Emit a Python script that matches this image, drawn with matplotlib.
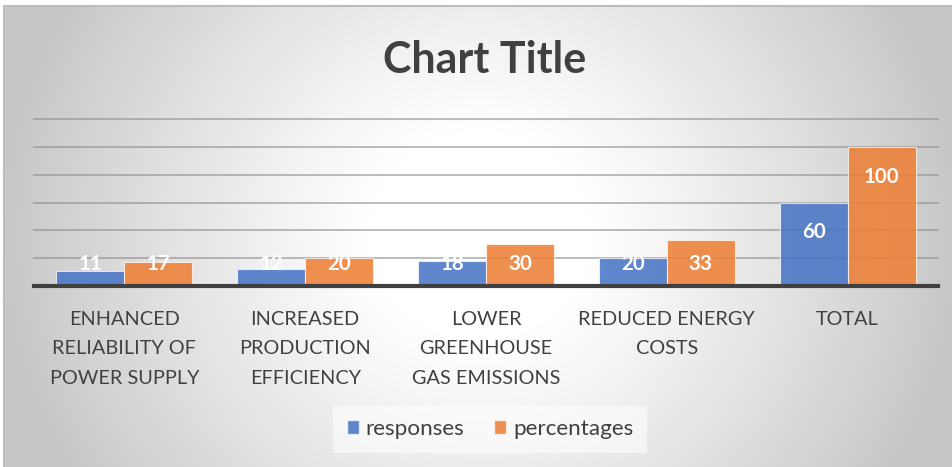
import numpy as np
import matplotlib
matplotlib.use("Agg")
import matplotlib.pyplot as plt
from matplotlib.colors import to_rgba
from matplotlib.lines import Line2D
from matplotlib.patches import Patch
import matplotlib.transforms as mtransforms

# ---- data ----
categories = ["ENHANCED\nRELIABILITY OF\nPOWER SUPPLY",
              "INCREASED\nPRODUCTION\nEFFICIENCY",
              "LOWER\nGREENHOUSE\nGAS EMISSIONS",
              "REDUCED ENERGY\nCOSTS",
              "TOTAL"]
responses = [11, 12, 18, 20, 60]
percentages = [17, 20, 30, 33, 100]
series_names = ["responses", "percentages"]
title = "Chart Title"

BLUE = "#4472C4"
ORANGE = "#ED7D31"
TXT = "#404040"

W, H = 952, 467
fig = plt.figure(figsize=(W / 100, H / 100), dpi=100)
fig.patch.set_facecolor("white")

# background radial gradient
bg = fig.add_axes([0, 0, 1, 1], zorder=0)
yy, xx = np.mgrid[0:H, 0:W]
r = np.hypot(xx - 480, (yy - 235) * 1.05)
val = 1 - 0.22 * np.clip((r - 110) / 370, 0, 1) ** 1.1
img = np.dstack([val, val, val])
img[:6, :, :] = 1.0
img[:, :3, :] = 1.0
bg.imshow(img, extent=[0, W, H, 0], aspect="auto", interpolation="bilinear")
bg.set_xlim(0, W)
bg.set_ylim(H, 0)
bg.axis("off")
# border lines
bg.add_line(Line2D([3.5, 3.5], [6, H], color="#bdbdbd", lw=1.5))
bg.add_line(Line2D([3.5, W], [6, 6], color="#bdbdbd", lw=1.5))

# main axes
left, right, top, base = 34, 938, 119, 286
ax = fig.add_axes([left / W, (H - base) / H, (right - left) / W, (base - top) / H], zorder=2)
ax.patch.set_alpha(0)
ax.set_xlim(-0.5, len(categories) - 0.5)
ax.set_ylim(0, 120)
for s in ax.spines.values():
    s.set_visible(False)
ax.set_xticks([])
ax.set_yticks([])
for g in range(20, 121, 20):
    ax.axhline(g, color="#8f8f8f", lw=1.4, alpha=0.6, zorder=1, clip_on=False)
ax.axhline(0, color="#404040", lw=3, zorder=4, clip_on=False)

x = np.arange(len(categories))
bw = 0.376
b1 = ax.bar(x - bw / 2, responses, bw, facecolor=to_rgba(BLUE, 0.85),
            edgecolor=to_rgba("white", 0.7), linewidth=0.8, zorder=3)
b2 = ax.bar(x + bw / 2, percentages, bw, facecolor=to_rgba(ORANGE, 0.85),
            edgecolor=to_rgba("white", 0.7), linewidth=0.8, zorder=3)

for xs, vals in ((x - bw / 2, responses), (x + bw / 2, percentages)):
    for xi, v in zip(xs, vals):
        ax.text(xi, max(v - 20, 17.3), str(v), ha="center", va="center_baseline",
                color="white", fontsize=14.8, fontweight="bold", family="Lato", zorder=5)

# category labels
for i, lab in enumerate(categories):
    for j, line in enumerate(lab.split("\n")):
        tr = mtransforms.offset_copy(ax.get_xaxis_transform(), fig=fig,
                                     x=0, y=-(32 + 29.5 * j) * 72 / 100, units="points")
        ax.text(i, 0, line, transform=tr, ha="center", va="center_baseline",
                fontsize=14.3, color=TXT, family="Lato")

# title
fig.text(484.5 / W, (H - 73) / H, title, ha="center", va="baseline",
         fontsize=31, fontweight="bold", color=TXT, family="Lato")

# legend
handles = [Patch(facecolor=to_rgba(BLUE, 0.85), edgecolor=to_rgba("white", 0.7)),
           Patch(facecolor=to_rgba(ORANGE, 0.85), edgecolor=to_rgba("white", 0.7))]
leg = fig.legend(handles, series_names, loc="center", bbox_to_anchor=(490 / W, (H - 429) / H),
                 ncol=2, frameon=True, fancybox=False, framealpha=0.55,
                 facecolor="white", edgecolor="none",
                 prop={"family": "Lato", "size": 16.2},
                 handlelength=0.55, handleheight=0.55, handletextpad=0.3,
                 columnspacing=1.3, borderpad=0.6)
for t in leg.get_texts():
    t.set_color(TXT)

fig.savefig("out.png", dpi=100)
